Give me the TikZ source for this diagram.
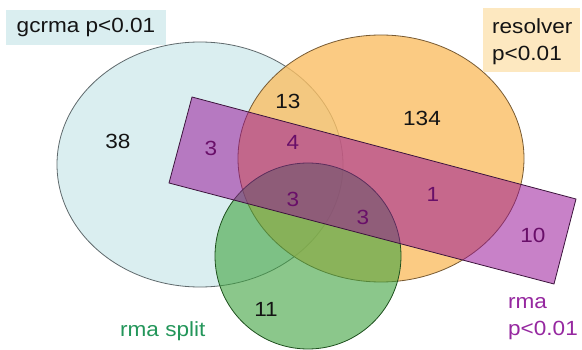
\documentclass[tikz,border=0pt]{standalone}
\usepackage{fontspec}
\setmainfont[FakeStretch=1.1]{Liberation Sans}
\definecolor{blueF}{RGB}{218,238,240}
\definecolor{blueL}{RGB}{95,105,108}
\definecolor{orangeF}{RGB}{250,191,100}
\definecolor{orangeL}{RGB}{120,90,50}
\definecolor{greenF}{RGB}{63,163,63}
\definecolor{greenL}{RGB}{30,80,30}
\definecolor{purpleF}{RGB}{150,15,150}
\definecolor{purpleL}{RGB}{60,20,60}
\definecolor{numP}{RGB}{105,15,105}
\definecolor{numK}{RGB}{20,20,20}
\definecolor{resBox}{RGB}{253,232,192}
\definecolor{splitC}{RGB}{35,150,90}
\definecolor{rmaC}{RGB}{150,40,160}
\begin{document}
\begin{tikzpicture}[x=1pt,y=-1pt,
  txt/.style={font=\fontsize{20.5}{27}\selectfont, inner sep=0pt},
  numk/.style={txt, text=numK},
  nump/.style={txt, text=numP},
  setline/.style={line width=0.8pt}]
\useasboundingbox (0,0) rectangle (582,350);
\fill[white] (0,0) rectangle (582,350);
% sets
\filldraw[setline, fill=blueF, draw=blueL] (200,164.5) ellipse [x radius=143, y radius=122.5];
\filldraw[setline, fill=orangeF, fill opacity=0.8, draw=orangeL] (381,158.5) ellipse [x radius=143, y radius=123.5];
\filldraw[setline, fill=greenF, fill opacity=0.6, draw=greenL] (308,256) circle [radius=93];
\filldraw[setline, fill=purpleF, fill opacity=0.52, draw=purpleL] (192,97) -- (576,199) -- (554,284) -- (169,183) -- cycle;
% labels
\node[txt, fill=blueF, minimum width=160pt, minimum height=35pt, text=numK] (lg) at (86,27.5) {gcrma p<0.01};
\fill[resBox] (483,8) rectangle (580,72);
\node[txt, anchor=base west, align=left, text=numK] (lr) at (492,61) {resolver\\p<0.01};
\node[txt, anchor=base west, align=left, text=rmaC] (lm) at (508,335) {rma\\p<0.01};
\node[txt, anchor=base west, text=splitC] (ls) at (120,337) {rma split};
% numbers
\node[numk] (n38) at (118,141) {38};
\node[numk] (n13) at (288,101) {13};
\node[numk] (n134) at (422,118) {134};
\node[nump] (n3a) at (211,148) {3};
\node[nump] (n4) at (293,142) {4};
\node[nump] (n3b) at (293,199) {3};
\node[nump] (n3c) at (363,217) {3};
\node[nump] (n1) at (433,194) {1};
\node[nump] (n10) at (533,235) {10};
\node[numk] (n11) at (266,309) {11};
\end{tikzpicture}
\end{document}
